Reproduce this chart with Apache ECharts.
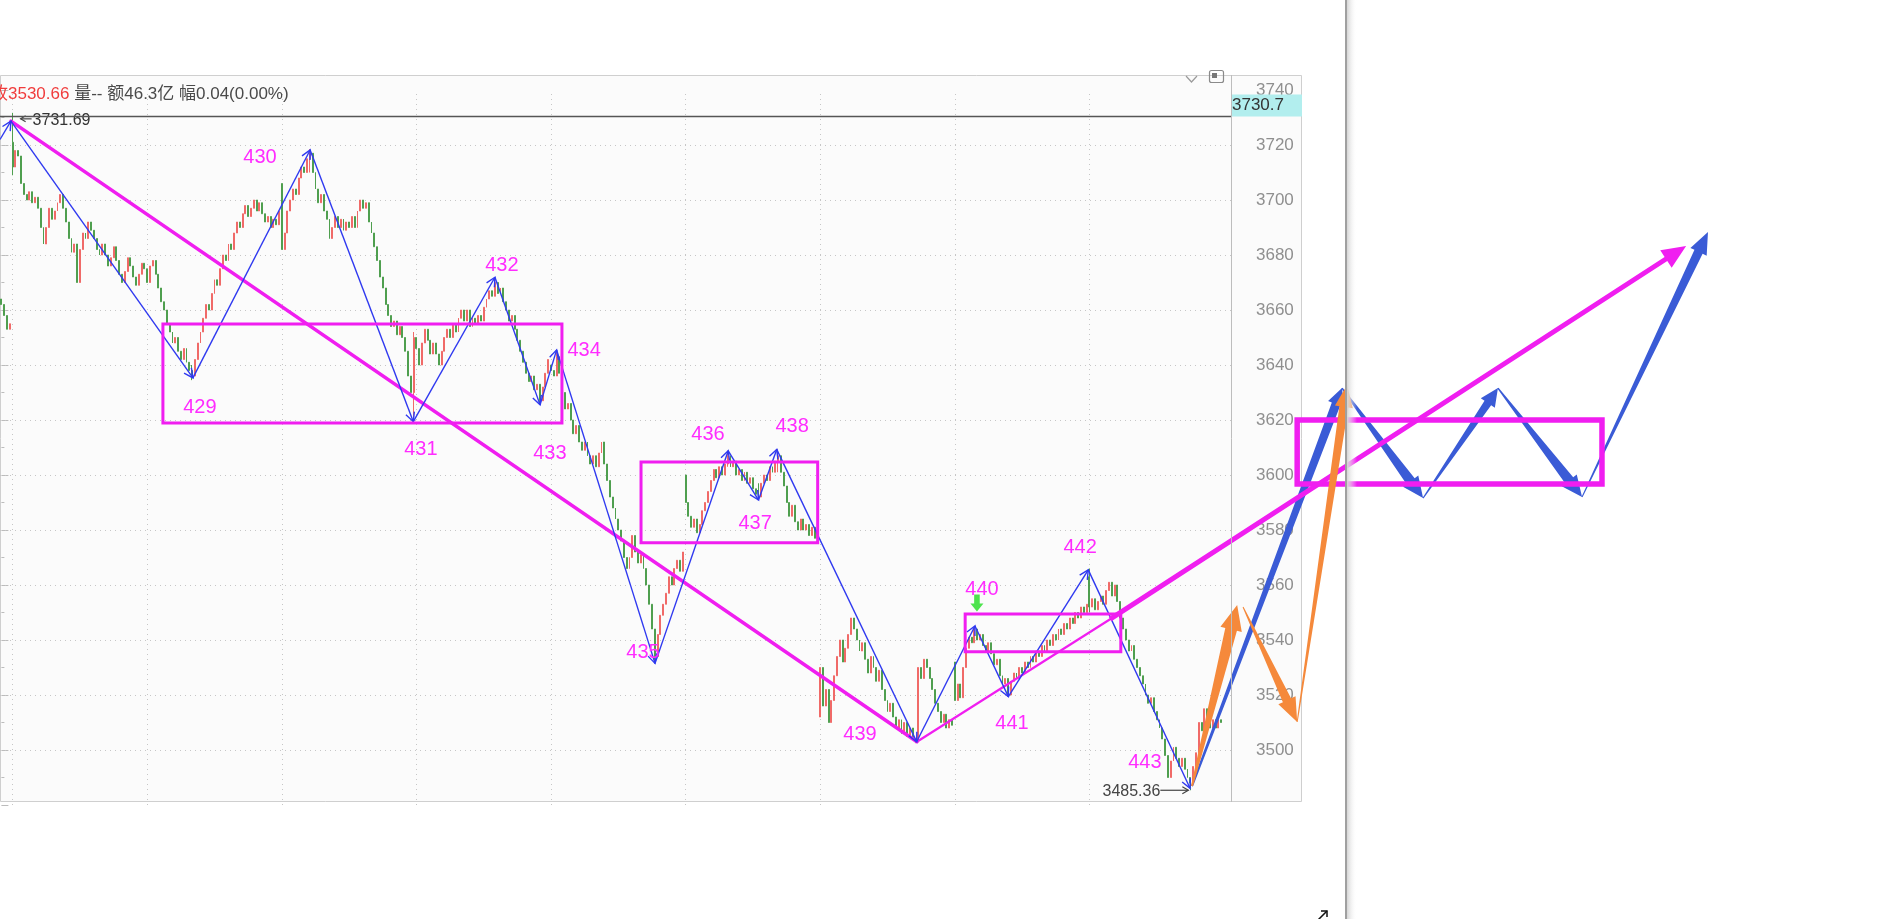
<!DOCTYPE html>
<html><head><meta charset="utf-8">
<script src="https://cdn.jsdelivr.net/npm/echarts@6/dist/echarts.min.js"></script>
<style>html,body{margin:0;padding:0;background:#fff;overflow:hidden}#c{width:1882px;height:919px}</style>
</head><body><div id="c"></div>
<script>
// ---------- DATA (5-minute bars) ----------
const closes = [
 3662,3658,3653,3655,
 3712,3718,3716,3706,3702,3700,3703,3699,3701,3697,3690,3684,3690,3697,3693,3696,3699,3702,3697,3692,3686,3681,3684,3670,3682,3688,3686,3692,3689,3686,3682,3680,3684,3680,3676,3679,3683,3678,3673,3670,3674,3679,3676,3672,3669,3673,3677,3675,
 3670,3676,3678,3673,3668,3663,3660,3655,3652,3648,3650,3645,3642,3646,3641,3638,3636,3642,3648,3652,3657,3662,3660,3666,3671,3669,3675,3680,3678,3684,3682,3688,3692,3690,3695,3698,3694,3697,3700,3696,3699,3695,3692,3694,3690,3693,3691,3696,
 3682,3688,3696,3700,3704,3702,3708,3712,3710,3715,3717,3710,3704,3699,3702,3696,3693,3686,3690,3694,3690,3693,3689,3692,3690,3694,3690,3696,3700,3697,3699,3692,3688,3683,3678,3672,3668,3662,3658,3654,3656,3651,3654,3650,3645,3636,3630,3650,
 3646,3640,3648,3653,3649,3644,3648,3644,3640,3645,3650,3653,3650,3655,3652,3657,3660,3656,3660,3654,3657,3655,3658,3656,3661,3664,3667,3665,3670,3666,3668,3663,3660,3656,3658,3653,3649,3645,3641,3637,3634,3636,3631,3633,3627,3632,3637,3642,
 3638,3636,3643,3637,3630,3624,3626,3620,3615,3618,3612,3609,3612,3607,3604,3607,3603,3608,3612,3604,3598,3592,3588,3584,3580,3576,3570,3566,3570,3578,3572,3568,3571,3566,3560,3553,3544,3534,3542,3549,3553,3557,3563,3560,3566,3569,3565,3572,
 3590,3585,3581,3584,3579,3582,3587,3590,3594,3598,3602,3599,3603,3600,3604,3607,3603,3605,3600,3602,3598,3601,3597,3599,3595,3593,3592,3597,3600,3598,3603,3601,3605,3607,3601,3596,3590,3585,3589,3583,3580,3584,3580,3582,3578,3581,3577,3580,
 3530,3516,3522,3510,3518,3527,3534,3540,3532,3537,3542,3548,3544,3540,3536,3539,3533,3528,3534,3530,3525,3529,3522,3518,3514,3517,3512,3508,3511,3506,3510,3505,3508,3504,3503,3530,3526,3533,3530,3526,3522,3517,3514,3510,3513,3508,3511,3509,
 3518,3524,3519,3530,3537,3541,3539,3544,3540,3542,3538,3536,3539,3535,3531,3533,3527,3524,3526,3520,3525,3528,3526,3530,3528,3532,3530,3534,3532,3536,3534,3538,3536,3540,3538,3542,3540,3544,3542,3546,3544,3548,3546,3550,3548,3552,3550,3553,
 3552,3555,3551,3554,3556,3553,3558,3561,3556,3560,3554,3548,3544,3540,3536,3538,3533,3530,3527,3524,3520,3517,3519,3514,3511,3508,3504,3498,3490,3496,3501,3497,3494,3497,3493,3490,3488,3494,3499,3510,3507,3515,3511,3508,3511,3508,3511,3510
];
// session opening prices (bar index -> open)
const openIdx = [0,4,100,196,244,292,340,388];
const openVal = [3664,3721,3706,3640,3600,3512,3532,3563];
// visible wicks
const wickIdx  = [4,68,110,147,176,192,198,233,259,270,277,326,347,359,388,424];
const wickLow  = [3709,3634.5,3710,3619.5,3665,3625.5,3636,3531.5,3603,3590.9,3601,3502.5,3540,3519.4,3550,3485.36];
const wickHigh = [3731.69,3640,3718.5,3652,3672,3633,3645.5,3544,3608.8,3597,3609.3,3504,3545.1,3526,3566,3490];

const dayStarts  = [4,52,100,148,196,244,292,340,388];
const gridPrices = [3500,3520,3540,3560,3580,3600,3620,3640,3660,3680,3700,3720];
const cursorPrice = 3730.7;

// zigzag pivots (bar index, price)
const zigX = [-0.5,3.4,68.3,110.1,146.9,176,192.1,198,233.1,259.2,270,276.5,326.4,347.2,359.1,387.6,423.9];
const zigY = [3722,3728.7,3635.3,3718.2,3619.4,3671.9,3625.5,3645.5,3531.5,3608.8,3590.9,3609.3,3503,3545.1,3519.4,3565.5,3486.1];
const waveNames  = ['429','430','431','432','433','434','435','436','437','438','439','440','441','442','443'];
const waveLabelX = [70.8,92.2,149.6,178.5,195.6,207.8,228.8,252,268.8,282,306.2,349.7,360.4,384.7,407.8];
const waveLabelY = [3624.5,3715.6,3609.1,3676.2,3608,3645.1,3535.6,3614.7,3582.2,3617.8,3505.5,3558.2,3509.8,3573.8,3495.3];

// boxes
const boxX1 = [57.6,228.1,343.7,462.1];
const boxY1 = [3654.9,3604.7,3549.5,3620];
const boxX2 = [199.9,291.1,399.2,570.8];
const boxY2 = [3618.9,3575.4,3535.7,3596.7];

// magenta trend lines
const magX1 = [3.4,326.5];
const magY1 = [3728.7,3503];
const magX2 = [326.5,398.9];
const magY2 = [3503,3549.8];
const magArrowX = [395.4,600.8];
const magArrowY = [3547.6,3683.3];

// projected blue path and orange arrows
const blueX = [424.6,478.1,507,533.7,563.7,608.6];
const blueY = [3486.9,3631.6,3591.6,3631.6,3592,3688.4];
const orX1 = [424.6,442.8,462.1];
const orY1 = [3486.9,3552,3510.2];
const orX2 = [440.7,462.1,479.9];
const orY2 = [3552.7,3510.2,3632.7];
const signalX = [347.9];
const signalY = [3553.5];

// ---------- build ----------
const bars = closes.map((c, i) => {
  const k = openIdx.indexOf(i);
  const o = k >= 0 ? openVal[k] : closes[i - 1];
  let lo = Math.min(o, c), hi = Math.max(o, c);
  const w = wickIdx.indexOf(i);
  if (w >= 0) { lo = Math.min(lo, wickLow[w]); hi = Math.max(hi, wickHigh[w]); }
  return [i, o, c, lo, hi];
});
const maxHigh = Math.max(...bars.map(b => b[4]));
const minLow = Math.min(...bars.map(b => b[3]));
const maxIdx = bars.find(b => b[4] === maxHigh)[0];
const minIdx = bars.find(b => b[3] === minLow)[0];

const F = '"Liberation Sans", Arial, "Noto Sans CJK SC", sans-serif';
const MAG = '#f01ef0', BLUE = '#2f39f0', RBLUE = '#3a5bd6', ORANGE = '#f5893b';

function unit(p1, p2) {
  const dx = p2[0] - p1[0], dy = p2[1] - p1[1], L = Math.hypot(dx, dy) || 1;
  return [dx / L, dy / L];
}
function vHead(p1, p2, len, half) {
  const [ux, uy] = unit(p1, p2);
  const bx = p2[0] - ux * len, by = p2[1] - uy * len;
  return [[bx - uy * half, by + ux * half], p2, [bx + uy * half, by - ux * half]];
}
function taper(p1, p2, w0, w1, hl, hw) {
  const [ux, uy] = unit(p1, p2), nx = -uy, ny = ux;
  const b = [p2[0] - ux * hl, p2[1] - uy * hl];
  return [
    [p1[0] + nx * w0 / 2, p1[1] + ny * w0 / 2],
    [b[0] + nx * w1 / 2, b[1] + ny * w1 / 2],
    [b[0] + nx * hw / 2, b[1] + ny * hw / 2],
    p2,
    [b[0] - nx * hw / 2, b[1] - ny * hw / 2],
    [b[0] - nx * w1 / 2, b[1] - ny * w1 / 2],
    [p1[0] - nx * w0 / 2, p1[1] - ny * w0 / 2]
  ];
}
function segs(x, y) { return x.slice(1).map((v, i) => [x[i], y[i], v, y[i + 1]]); }
function segSeries(data, z, draw) {
  return {
    type: 'custom', coordinateSystem: 'cartesian2d', z, silent: true, clip: false,
    data, encode: { x: [0, 2], y: [1, 3] },
    renderItem: (params, api) => {
      const p1 = api.coord([api.value(0), api.value(1)]);
      const p2 = api.coord([api.value(2), api.value(3)]);
      return draw(p1, p2, params.dataIndex);
    }
  };
}
const blueStyle = [[2, 9, 17, 17], [1.5, 10, 19, 21], [1, 8, 17, 18], [1.5, 10, 19, 21], [1, 9, 18, 22]];
const orangeStyle = [[2, 12, 22, 25], [1, 9, 19, 24], [1, 9, 18, 22]];

const option = {
  animation: false,
  backgroundColor: '#ffffff',
  grid: { left: 0, top: 90, width: 1231, height: 715, show: false },
  xAxis: { type: 'value', min: -0.5, max: 438.5, show: false, splitLine: { show: false } },
  yAxis: {
    type: 'value', position: 'right', min: 3480, max: 3740, interval: 20,
    axisLine: { show: false },
    axisTick: { show: true, length: 7, lineStyle: { color: '#bcbcbc' } },
    minorTick: { show: true, splitNumber: 2, length: 3, lineStyle: { color: '#bcbcbc' } },
    axisLabel: { margin: 25, color: '#8f8f8f', fontSize: 17, fontFamily: F, showMinLabel: false, showMaxLabel: true,
      formatter: v => String(v) },
    splitLine: { show: false }, minorSplitLine: { show: false }
  },
  graphic: [
    { type: 'rect', z: -100, silent: true, shape: { x: 0.5, y: 75.5, width: 1301, height: 726 },
      style: { fill: '#fbfbfb', stroke: '#cfcfcf', lineWidth: 1 } },
    { type: 'line', z: 50, silent: true, shape: { x1: 1231.5, y1: 75, x2: 1231.5, y2: 802 },
      style: { stroke: '#bdbdbd', lineWidth: 1 } },
    { type: 'text', z: 50, silent: true, x: -9, y: 94,
      style: { text: '{r|收3530.66} {g|量-- 额46.3亿 幅0.04(0.00%)}', fontSize: 17, fontFamily: F, verticalAlign: 'middle',
        rich: { r: { fill: '#f03c3c', fontSize: 17, fontFamily: F }, g: { fill: '#4a4a4a', fontSize: 17, fontFamily: F } } } },
    { type: 'polyline', z: 50, silent: true, shape: { points: [[1186, 76], [1191.5, 82], [1197, 76]] },
      style: { stroke: '#9a9a9a', lineWidth: 1.2, fill: 'none' } },
    { type: 'rect', z: 50, silent: true, shape: { x: 1209.5, y: 70.5, width: 14, height: 12, r: 2 },
      style: { stroke: '#8a8a8a', lineWidth: 1.2, fill: 'none' } },
    { type: 'rect', z: 50, silent: true, shape: { x: 1212, y: 73, width: 5, height: 5 }, style: { fill: '#777' } },
    { type: 'rect', z: 50, silent: true, shape: { x: 1345, y: 0, width: 2, height: 919 }, style: { fill: '#a0a0a0' } },
    { type: 'rect', z: 50, silent: true, shape: { x: 1347, y: 0, width: 10, height: 919 },
      style: { fill: new echarts.graphic.LinearGradient(0, 0, 1, 0, [{ offset: 0, color: '#d6d6d6' }, { offset: 1, color: 'rgba(255,255,255,0)' }]) } },
    { type: 'polyline', z: 50, silent: true, shape: { points: [[1318, 920], [1327, 911]] }, style: { stroke: '#111', lineWidth: 1.5, fill: 'none' } },
    { type: 'polyline', z: 50, silent: true, shape: { points: [[1321, 911], [1327, 911], [1327, 917]] }, style: { stroke: '#111', lineWidth: 1.5, fill: 'none' } }
  ],
  series: [
    { type: 'line', data: [], z: 1, silent: true,
      markLine: { z: 1, silent: true, symbol: ['none', 'none'], label: { show: false }, animation: false,
        lineStyle: { color: '#c6c6c6', width: 1, type: [1, 4] }, emphasis: { disabled: true },
        data: [...dayStarts.map(v => ({ xAxis: v })), ...gridPrices.map(v => ({ yAxis: v }))] } },
    { type: 'candlestick', z: 2, silent: true, large: false, barWidth: 1.4,
      encode: { x: 0, y: [1, 2, 3, 4] },
      itemStyle: { color: '#f06a68', color0: '#4f9f4f', borderColor: '#f06a68', borderColor0: '#4f9f4f', borderWidth: 1 },
      data: bars },
    // magenta trend lines
    segSeries(magX1.map((x, i) => [x, magY1[i], magX2[i], magY2[i]]), 3, (p1, p2, i) => ({
      type: 'line', shape: { x1: p1[0], y1: p1[1], x2: p2[0], y2: p2[1] },
      style: { stroke: MAG, lineWidth: i === 0 ? 3.5 : 2.2, lineCap: 'round' } })),
    // boxes
    segSeries(boxX1.map((x, i) => [x, boxY1[i], boxX2[i], boxY2[i]]), 7, (a, b, i) => ({
      type: 'rect', shape: { x: Math.min(a[0], b[0]), y: Math.min(a[1], b[1]), width: Math.abs(b[0] - a[0]), height: Math.abs(b[1] - a[1]) },
      style: { fill: 'none', stroke: MAG, lineWidth: i === 3 ? 5.5 : 3 } })),
    // zigzag
    segSeries(segs(zigX, zigY), 4, (p1, p2) => ({
      type: 'group', children: [
        { type: 'line', shape: { x1: p1[0], y1: p1[1], x2: p2[0], y2: p2[1] }, style: { stroke: BLUE, lineWidth: 1.4 } },
        { type: 'polyline', shape: { points: vHead(p1, p2, 9, 4.5) }, style: { stroke: BLUE, lineWidth: 1.4, fill: 'none' } }
      ] })),
    // wave labels
    { type: 'custom', coordinateSystem: 'cartesian2d', z: 5, silent: true, clip: false,
      data: waveLabelX.map((x, i) => [x, waveLabelY[i]]),
      renderItem: (params, api) => {
        const p = api.coord([api.value(0), api.value(1)]);
        return { type: 'text', x: p[0], y: p[1], style: { text: waveNames[params.dataIndex], fill: '#ff2cff',
          fontSize: 20, fontFamily: F, align: 'center', verticalAlign: 'middle' } };
      } },
    // projected blue path
    segSeries(segs(blueX, blueY), 6, (p1, p2, i) => {
      const s = blueStyle[i];
      return { type: 'polygon', shape: { points: taper(p1, p2, s[0], s[1], s[3], s[2]) }, style: { fill: RBLUE } };
    }),
    // magenta projection arrow
    segSeries([[magArrowX[0], magArrowY[0], magArrowX[1], magArrowY[1]]], 7, (p1, p2) => ({
      type: 'polygon', shape: { points: taper(p1, p2, 5, 5, 24, 21) }, style: { fill: MAG } })),
    // orange arrows
    segSeries(orX1.map((x, i) => [x, orY1[i], orX2[i], orY2[i]]), 8, (p1, p2, i) => {
      const s = orangeStyle[i];
      return { type: 'polygon', shape: { points: taper(p1, p2, s[0], s[1], s[3], s[2]) }, style: { fill: ORANGE } };
    }),
    // green signal arrow
    { type: 'scatter', z: 8, silent: true, data: signalX.map((x, i) => [x, signalY[i]]),
      symbol: 'path://M4,0 L10,0 L10,9 L14,9 L7,17 L0,9 L4,9 Z', symbolSize: [13, 17],
      itemStyle: { color: '#22dd22' } },
    // high / low labels
    { type: 'custom', coordinateSystem: 'cartesian2d', z: 9, silent: true, clip: false,
      data: [[maxIdx, maxHigh], [minIdx, minLow]],
      renderItem: (params, api) => {
        const p = api.coord([api.value(0), api.value(1)]);
        const txt = api.value(1).toFixed(2);
        if (params.dataIndex === 0) {
          const a1 = [p[0] + 19, p[1] + 6], a2 = [p[0] + 8, p[1] + 6];
          return { type: 'group', children: [
            { type: 'line', shape: { x1: a1[0], y1: a1[1], x2: a2[0], y2: a2[1] }, style: { stroke: '#444', lineWidth: 1.2 } },
            { type: 'polyline', shape: { points: vHead(a1, a2, 5, 3) }, style: { stroke: '#444', lineWidth: 1.2, fill: 'none' } },
            { type: 'text', x: p[0] + 20, y: p[1] + 8, style: { text: txt, fill: '#333', fontSize: 16, fontFamily: F, align: 'left', verticalAlign: 'middle' } }
          ] };
        }
        const a1 = [p[0] - 30, p[1]], a2 = [p[0] - 2, p[1]];
        return { type: 'group', children: [
          { type: 'line', shape: { x1: a1[0], y1: a1[1], x2: a2[0], y2: a2[1] }, style: { stroke: '#444', lineWidth: 1.2 } },
          { type: 'polyline', shape: { points: vHead(a1, a2, 6, 3.5) }, style: { stroke: '#444', lineWidth: 1.2, fill: 'none' } },
          { type: 'text', x: p[0] - 30, y: p[1] + 1, style: { text: txt, fill: '#444', fontSize: 16, fontFamily: F, align: 'right', verticalAlign: 'middle' } }
        ] };
      } },
    // cursor price line + label
    { type: 'custom', coordinateSystem: 'cartesian2d', z: 9, silent: true, clip: false,
      data: [[-0.5, cursorPrice]],
      renderItem: (params, api) => {
        const cs = params.coordSys;
        const y = Math.round(api.coord([api.value(0), api.value(1)])[1]) + 0.5;
        const xr = cs.x + cs.width;
        return { type: 'group', children: [
          { type: 'line', shape: { x1: cs.x, y1: y, x2: xr, y2: y }, style: { stroke: '#555', lineWidth: 1.5 } },
          { type: 'rect', shape: { x: xr, y: y - 22, width: 71, height: 22 }, style: { fill: '#b2eeee' } },
          { type: 'text', x: xr + 1, y: y - 11, style: { text: String(api.value(1)), fill: '#333', fontSize: 17, fontFamily: F, align: 'left', verticalAlign: 'middle' } }
        ] };
      } }
  ]
};
const chart = echarts.init(document.getElementById('c'), null, { renderer: 'canvas', width: 1882, height: 919 });
chart.setOption(option);
</script>
</body></html>
